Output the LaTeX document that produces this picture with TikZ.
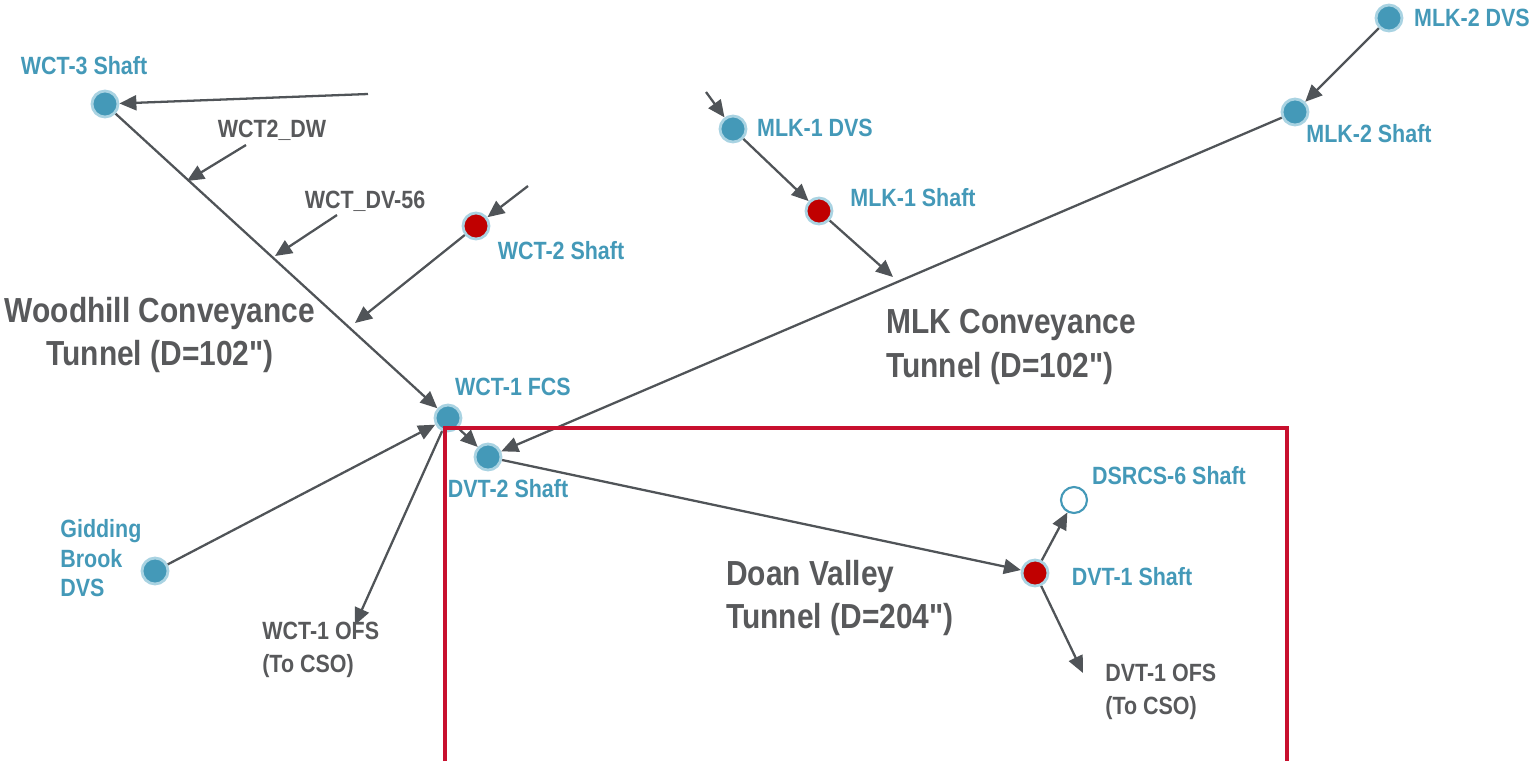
\documentclass[tikz,border=0pt]{standalone}
\usepackage{fontspec}
\setmainfont[FakeStretch=0.86,Ligatures=TeXOff]{Liberation Sans}
\usetikzlibrary{arrows.meta}

\definecolor{shaftblue}{HTML}{4499B8}
\definecolor{ringblue}{HTML}{A9D3E2}
\definecolor{shaftred}{HTML}{C00000}
\definecolor{pipegray}{HTML}{505458}
\definecolor{textgray}{HTML}{58595B}
\definecolor{boxred}{HTML}{C8102E}

\tikzset{
  site/.style={circle,minimum size=0.52cm,inner sep=0pt,fill=shaftblue,draw=ringblue,line width=1.6pt},
  dropsite/.style={site,fill=shaftred},
  newsite/.style={circle,minimum size=0.52cm,inner sep=0pt,fill=white,draw=shaftblue,line width=1.2pt},
  sitename/.style={text=shaftblue,font=\bfseries\fontsize{14.2}{18}\selectfont,inner sep=0pt,align=left},
  flowname/.style={text=textgray,font=\bfseries\fontsize{14.2}{18.7}\selectfont,inner sep=0pt,align=left},
  tunnelname/.style={text=textgray,font=\bfseries\fontsize{19.8}{25}\selectfont,inner sep=0pt},
  pipe/.style={draw=pipegray,line width=1.3pt,-{Triangle[length=0.34cm,width=0.3cm]}},
}

\begin{document}
\begin{tikzpicture}[x=0.02cm,y=-0.02cm]
    \useasboundingbox (0,0) rectangle (1532,762);

    % shafts and diversion structures
    \node[site] (wct3) at (105,104) {};
    \node[dropsite] (wct2) at (476,226) {};
    \node[site] (wctfcs) at (448,418) {};
    \node[site] (gidding) at (155,571) {};
    \node[site] (dvt2) at (488,457) {};
    \node[site] (mlk1dvs) at (733,129) {};
    \node[dropsite] (mlk1) at (819,211) {};
    \node[site] (mlk2) at (1295,112) {};
    \node[site] (mlk2dvs) at (1389,18) {};
    \node[dropsite] (dvt1) at (1035,573) {};
    \node[newsite] (dsrcs) at (1074,500) {};

    % free ends of the connectors
    \coordinate (wct3in) at (368,94);
    \coordinate (wct2in) at (528,186);
    \coordinate (wct2out) at (355,323);
    \coordinate (dwin) at (246,145);
    \coordinate (dwout) at (187,181);
    \coordinate (dvin) at (337,215);
    \coordinate (dvout) at (275,256);
    \coordinate (wctofs) at (355,625);
    \coordinate (mlk1in) at (706,92);
    \coordinate (mlk1out) at (893,277);
    \coordinate (dvtofs) at (1083,673);

    % the tunnels and their feeders
    \draw[pipe] (wct3in) -- (wct3);
    \draw[pipe] (wct3) -- (wctfcs);
    \draw[pipe] (dwin) -- (dwout);
    \draw[pipe] (dvin) -- (dvout);
    \draw[pipe] (wct2in) -- (wct2);
    \draw[pipe] (wct2) -- (wct2out);
    \draw[pipe] (gidding) -- (wctfcs);
    \draw[pipe] (wctfcs) -- (wctofs);
    \draw[pipe] (wctfcs) -- (dvt2);
    \draw[pipe] (mlk2dvs) -- (mlk2);
    \draw[pipe] (mlk2) -- (dvt2);
    \draw[pipe] (mlk1in) -- (mlk1dvs);
    \draw[pipe] (mlk1dvs) -- (mlk1);
    \draw[pipe] (mlk1) -- (mlk1out);
    \draw[pipe] (dvt2) -- (dvt1);
    \draw[pipe] (dvt1) -- (dsrcs);
    \draw[pipe] (dvt1) -- (dvtofs);

    % names of the sites
    \foreach \p/\name/\txt in {
        {(84,66)}/lwct3/WCT-3 Shaft,
        {(561,251)}/lwct2/WCT-2 Shaft,
        {(513,387)}/lwctfcs/WCT-1 FCS,
        {(508,489)}/ldvt2/DVT-2 Shaft,
        {(815,128)}/lmlk1dvs/MLK-1 DVS,
        {(913,198)}/lmlk1/MLK-1 Shaft,
        {(1369,134)}/lmlk2/MLK-2 Shaft,
        {(1472,18)}/lmlk2dvs/MLK-2 DVS,
        {(1132,577)}/ldvt1/DVT-1 Shaft,
        {(1169,476)}/ldsrcs/DSRCS-6 Shaft}
            \node[sitename] (\name) at \p {\txt};
    \node[sitename,anchor=west,text depth=0pt] (lgidding) at (60,558) {Gidding\\[-1pt]Brook\\[-1pt]DVS};

    % names of the flows
    \node[flowname] (ldw) at (272,130) {WCT2\_DW};
    \node[flowname] (ldv) at (365,201) {WCT\_DV-56};
    \node[flowname,anchor=west] (lwctofs) at (262,650) {WCT-1 OFS\\(To CSO)};
    \node[flowname,anchor=west] (ldvtofs) at (1105,692) {DVT-1 OFS\\(To CSO)};

    % names of the tunnels
    \node[tunnelname,align=center] (lwoodhill) at (160,335) {Woodhill Conveyance\\Tunnel (D=102")};
    \node[tunnelname,align=left,anchor=west] (lmlk) at (886,347) {MLK Conveyance\\Tunnel (D=102")};
    \node[tunnelname,align=left,anchor=west] (ldoan) at (726,598) {Doan Valley\\Tunnel (D=204")};

    % the study area
    \draw[boxred,line width=2.6pt] (445,761) -- (445,428) -- (1287,428) -- (1287,761);
\end{tikzpicture}
\end{document}
